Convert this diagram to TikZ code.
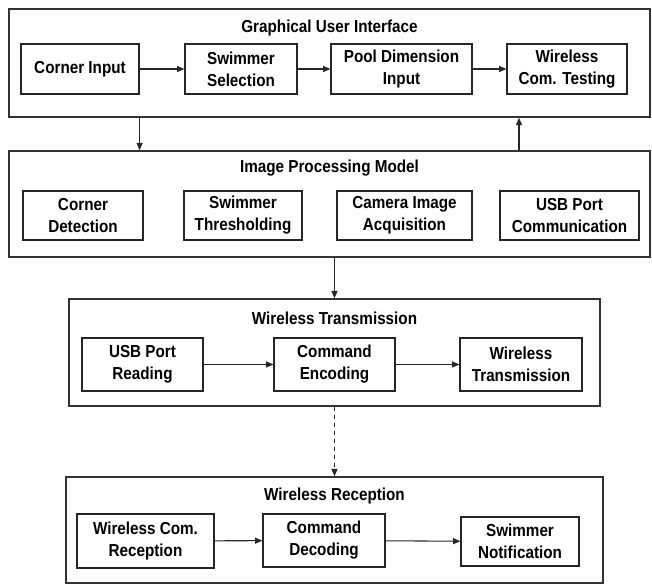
\documentclass[tikz,border=0pt]{standalone}
\usepackage{fontspec}
\setmainfont{Liberation Sans}[FakeStretch=0.88]
\usetikzlibrary{arrows.meta, positioning}
\tikzset{
    block/.style={draw=black!85, line width=0.9pt, fill=white, align=center, inner sep=2pt, font=\fontsize{13}{16.5}\selectfont\bfseries},
    group/.style={draw=black!80, line width=1.1pt, inner sep=0pt},
    title/.style={inner sep=0pt, font=\fontsize{13}{16.5}\selectfont\bfseries},
    flow/.style={-{Triangle[length=5.5pt, width=4.5pt]}, line width=0.8pt, black!85}
}

\begin{document}
\begin{tikzpicture}[x=0.75pt, y=-0.75pt]
      \useasboundingbox (0,0) rectangle (652,584);

      % containers
      \node (gui) [group, minimum width=480.75pt, minimum height=81pt] at (329.5,63) {};
      \node (ipm) [group, minimum width=480.75pt, minimum height=79.5pt] at (329.5,204) {};
      \node (wtx) [group, minimum width=398.25pt, minimum height=80.25pt] at (334.5,352.5) {};
      \node (wrx) [group, minimum width=402.75pt, minimum height=79.5pt] at (334.5,530) {};

      \node (guititle) [title] at (329.5,28) {Graphical User Interface};
      \node (ipmtitle) [title] at (329.5,168) {Image Processing Model};
      \node (wtxtitle) [title] at (334.5,318) {Wireless Transmission};
      \node (wrxtitle) [title] at (334.5,496) {Wireless Reception};

      % GUI row
      \node (corner) [block, minimum width=88.5pt, minimum height=37.5pt] at (80,69) {Corner Input};
      \node (swimsel) [block, minimum width=84pt, minimum height=37.5pt] at (241,69) {Swimmer\\Selection};
      \node (pooldim) [block, minimum width=105.75pt, minimum height=37.5pt] at (401.5,69) {Pool Dimension\\Input};
      \node (wtest) [block, minimum width=90pt, minimum height=37.5pt] at (567,69) {Wireless\\Com. Testing};

      % image processing row
      \node (cornerdet) [block, minimum width=90pt, minimum height=36.75pt] at (83,215.5) {Corner\\Detection};
      \node (thresh) [block, minimum width=88.5pt, minimum height=36.75pt] at (243,215.5) {Swimmer\\Thresholding};
      \node (camera) [block, minimum width=101.25pt, minimum height=36.75pt] at (404.5,215.5) {Camera Image\\Acquisition};
      \node (usbcomm) [block, minimum width=104.25pt, minimum height=36.75pt] at (569.5,215.5) {USB Port\\Communication};

      % transmission row
      \node (usbread) [block, minimum width=90.75pt, minimum height=39.75pt] at (142.5,364.5) {USB Port\\Reading};
      \node (encode) [block, minimum width=90.75pt, minimum height=39.75pt] at (334.5,364.5) {Command\\Encoding};
      \node (sender) [block, minimum width=91.5pt, minimum height=39.75pt] at (521,364.5) {Wireless\\Transmission};

      % reception row
      \node (receiver) [block, minimum width=102.75pt, minimum height=40.5pt] at (145.5,541) {Wireless Com.\\Reception};
      \node (decode) [block, minimum width=91.5pt, minimum height=39.75pt] at (324,540.5) {Command\\Decoding};
      \node (notify) [block, minimum width=88.5pt, minimum height=36.75pt] at (520,541.5) {Swimmer\\Notification};

      \draw [flow] (corner) -- (swimsel);
      \draw [flow] (swimsel) -- (pooldim);
      \draw [flow] (pooldim) -- (wtest);
      \draw [flow] (usbread) -- (encode);
      \draw [flow] (encode) -- (sender);
      \draw [flow] (receiver) -- (decode);
      \draw [flow] (decode) -- (notify);

      \draw [flow] (corner.east |- gui.south) -- (corner.east |- ipm.north);
      \draw [flow] (ipm.north -| 519,0) -- (gui.south -| 519,0);
      \draw [flow] (wtx.north |- ipm.south) -- (wtx.north);
      \draw [flow, dashed] (wtx.south) -- (wrx.north);
    \end{tikzpicture}
\end{document}
